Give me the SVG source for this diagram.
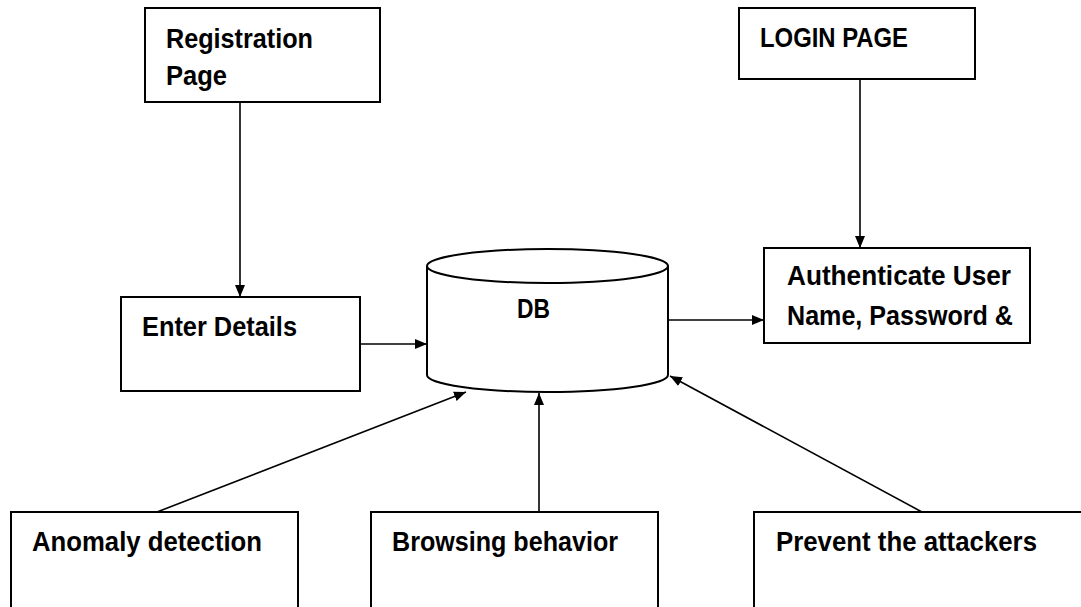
<svg xmlns="http://www.w3.org/2000/svg" width="1081" height="607" viewBox="0 0 1081 607">
<defs>
<style>
.box{fill:#fff;stroke:#000;stroke-width:2}
.t{font-family:"Liberation Sans",Arial,sans-serif;font-weight:bold;font-size:27px;fill:#000}
.c{stroke:#000;stroke-width:1.6;fill:none}
</style>
<marker id="ah" viewBox="0 0 12 10" refX="12" refY="5" markerWidth="12" markerHeight="10" markerUnits="userSpaceOnUse" orient="auto">
<path d="M0,0 L12,5 L0,10 Z" fill="#000"/>
</marker>
</defs>
<rect width="1081" height="607" fill="#fff"/>
<g id="registration">
<rect class="box" x="145" y="8" width="235" height="94"/>
<text class="t" x="166" y="48" textLength="147" lengthAdjust="spacingAndGlyphs">Registration</text>
<text class="t" x="166" y="85" textLength="61" lengthAdjust="spacingAndGlyphs">Page</text>
</g>
<g id="login">
<rect class="box" x="739" y="8" width="236" height="71"/>
<text class="t" x="760" y="47" textLength="148" lengthAdjust="spacingAndGlyphs">LOGIN PAGE</text>
</g>
<g id="enter-details">
<rect class="box" x="121" y="297" width="239" height="94"/>
<text class="t" x="142" y="336" textLength="155" lengthAdjust="spacingAndGlyphs">Enter Details</text>
</g>
<g id="db">
<path class="box" d="M427,266 L427,375 A120.5,17 0 0 0 668,375 L668,266"/>
<ellipse class="box" cx="547.5" cy="266" rx="120.5" ry="17"/>
<text class="t" x="517" y="318" textLength="33" lengthAdjust="spacingAndGlyphs">DB</text>
</g>
<g id="authenticate">
<rect class="box" x="764" y="248" width="266" height="95"/>
<text class="t" x="787" y="285" textLength="224" lengthAdjust="spacingAndGlyphs">Authenticate User</text>
<text class="t" x="787" y="325" textLength="226" lengthAdjust="spacingAndGlyphs">Name, Password &amp;</text>
</g>
<g id="anomaly">
<rect class="box" x="11" y="512" width="287" height="110"/>
<text class="t" x="32" y="551" textLength="230" lengthAdjust="spacingAndGlyphs">Anomaly detection</text>
</g>
<g id="browsing">
<rect class="box" x="371" y="512" width="287" height="110"/>
<text class="t" x="392" y="551" textLength="226" lengthAdjust="spacingAndGlyphs">Browsing behavior</text>
</g>
<g id="prevent">
<rect class="box" x="754" y="512" width="340" height="110"/>
<text class="t" x="776" y="551" textLength="261" lengthAdjust="spacingAndGlyphs">Prevent the attackers</text>
</g>
<g id="connectors">
<line class="c" x1="240" y1="102" x2="240" y2="297" marker-end="url(#ah)"/>
<line class="c" x1="860" y1="79" x2="860" y2="248" marker-end="url(#ah)"/>
<line class="c" x1="360" y1="344" x2="427" y2="344" marker-end="url(#ah)"/>
<line class="c" x1="668" y1="320" x2="764" y2="320" marker-end="url(#ah)"/>
<line class="c" x1="157" y1="512" x2="466" y2="392" marker-end="url(#ah)"/>
<line class="c" x1="539" y1="512" x2="539" y2="393" marker-end="url(#ah)"/>
<line class="c" x1="922" y1="512" x2="670" y2="376" marker-end="url(#ah)"/>
</g>
</svg>
